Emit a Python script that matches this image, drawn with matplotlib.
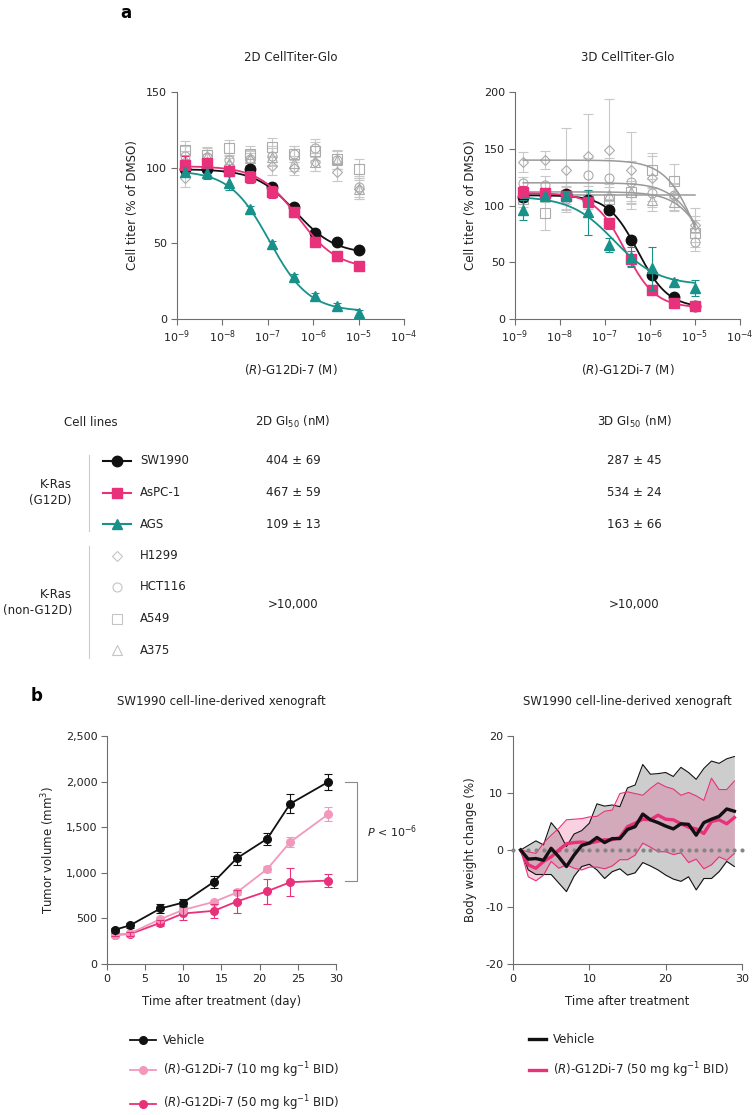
"""SW1990 / G12Di-7 figure: dose response (a) and xenograft (b)."""

import numpy as np
import matplotlib
matplotlib.use('Agg')
import matplotlib.pyplot as plt
from matplotlib.ticker import NullLocator, FuncFormatter

plt.rcParams['font.family'] = ['DejaVu Sans']
plt.rcParams['axes.unicode_minus'] = False
plt.rcParams['mathtext.fontset'] = 'dejavusans'

BLACK = '#111111'
PINK = '#e8317a'
LIGHT_PINK = '#f398bd'
TEAL = '#17918a'
GRAY = '#ababab'
AX_GRAY = '#6e6e6e'
TXT = '#222222'

# ---------------- panel a data ----------------
dose = [1.52e-9, 4.57e-9, 1.37e-8, 4.12e-8, 1.23e-7, 3.70e-7, 1.11e-6, 3.33e-6, 1.0e-5]

g12d_lines = ['SW1990', 'AsPC-1', 'AGS']
g12d_colors = [BLACK, PINK, TEAL]
g12d_markers = ['o', 's', '^']
other_lines = ['H1299', 'HCT116', 'A549', 'A375']
other_markers = ['D', 'o', 's', '^']

sw1990_2d = [98.8, 99.1, 97.7, 99.1, 87.4, 73.8, 56.7, 50.7, 45.9]
aspc1_2d = [102.0, 102.8, 97.7, 93.6, 83.7, 70.7, 51.2, 41.3, 35.1]
ags_2d = [97.3, 96.2, 90.0, 72.7, 49.4, 27.9, 15.4, 8.8, 4.0]
sw1990_2d_err = [2, 2, 2, 2, 2, 2, 2, 2, 2]
aspc1_2d_err = [6, 3, 3, 4, 4, 3, 3, 3, 2]
ags_2d_err = [3, 4, 5, 2, 2, 2, 2, 2, 2]

h1299_2d = [93.5, 104.0, 101.7, 105.0, 101.0, 100.0, 104.0, 97.0, 86.0]
hct116_2d = [108.0, 107.0, 105.0, 106.0, 108.0, 109.0, 113.0, 105.0, 87.4]
a549_2d = [111.6, 108.7, 113.3, 109.0, 113.8, 109.0, 111.0, 105.4, 99.0]
a375_2d = [105.0, 108.0, 103.0, 106.7, 107.0, 103.0, 104.0, 105.0, 86.0]
other_2d_err = [6, 5, 5, 5, 6, 5, 6, 6, 7]

sw1990_3d = [107.2, 109.2, 110.0, 104.8, 96.3, 69.7, 38.9, 19.3, 11.7]
aspc1_3d = [112.0, 110.7, 108.6, 103.4, 84.3, 53.0, 25.8, 14.0, 11.7]
ags_3d = [96.0, 108.0, 108.6, 94.0, 65.3, 55.0, 44.8, 32.2, 27.2]
sw1990_3d_err = [3, 3, 3, 3, 3, 3, 3, 3, 3]
aspc1_3d_err = [5, 4, 4, 4, 5, 7, 4, 3, 3]
ags_3d_err = [9, 3, 3, 20, 6, 8, 19, 3, 7]

h1299_3d = [138.5, 140.0, 131.0, 144.0, 149.0, 131.0, 124.0, 108.0, 83.0]
hct116_3d = [119.5, 118.0, 106.0, 127.0, 124.0, 120.4, 111.0, 109.0, 68.0]
a549_3d = [106.0, 93.0, 109.0, 105.0, 106.0, 112.0, 131.0, 122.0, 75.5]
a375_3d = [107.7, 109.0, 109.0, 109.0, 109.0, 112.0, 105.0, 103.0, 81.0]
h1299_3d_err = [9, 8, 37, 37, 45, 34, 20, 12, 15]
hct116_3d_err = [6, 8, 10, 15, 18, 19, 12, 10, 8]
a549_3d_err = [7, 15, 12, 8, 10, 10, 15, 15, 12]
a375_3d_err = [5, 6, 8, 8, 10, 8, 10, 8, 10]

# four-parameter fits (top, bottom, GI50 [M], Hill)
fit_top_2d = [99, 101, 98]
fit_bottom_2d = [43, 33, 5]
fit_gi50_2d = [4.04e-7, 4.67e-7, 1.09e-7]
fit_hill_2d = [1.0, 1.0, 1.0]

fit_top_3d = [109, 111, 108]
fit_bottom_3d = [10, 10, 30]
fit_gi50_3d = [5.4e-7, 2.8e-7, 1.6e-7]
fit_hill_3d = [1.3, 1.3, 0.9]

fit_top_3d_other = [140, 120, 109, 112]
fit_bottom_3d_other = [0, 0, 109, 0]
fit_gi50_3d_other = [1.3e-5, 2.0e-5, 1.0e-5, 2.5e-5]
fit_hill_3d_other = [1.2, 1.2, 1.0, 1.2]

gi50_2d_text = ['404 ± 69', '467 ± 59', '109 ± 13']
gi50_3d_text = ['287 ± 45', '534 ± 24', '163 ± 66']
other_gi50_text = '>10,000'

# ---------------- panel b data ----------------
tv_days = [1, 3, 7, 10, 14, 17, 21, 24, 29]
vehicle_tv = [375, 423, 609, 674, 900, 1159, 1374, 1757, 1997]
vehicle_tv_err = [25, 30, 45, 40, 70, 70, 65, 105, 85]
g12di_10_tv = [320, 335, 492, 594, 681, 784, 1042, 1337, 1643]
g12di_10_tv_err = [15, 20, 25, 25, 25, 30, 30, 55, 80]
g12di_50_tv = [320, 328, 452, 554, 583, 685, 798, 897, 915]
g12di_50_tv_err = [15, 20, 30, 70, 80, 125, 135, 155, 70]

bw_days = list(range(1, 30))
vehicle_bw = [0, -1.6, -1.5, -1.8, 0.3, -1.2, -2.9, -0.9, 0.8, 1.2, 2.2, 1.3, 2.0, 2.0,
              3.6, 4.1, 6.3, 5.3, 4.8, 4.2, 3.7, 4.6, 4.5, 2.6, 4.8, 5.4, 5.9, 7.2, 6.8]
vehicle_bw_hi = [0, 0.8, 1.6, 0.9, 4.8, 3.2, 0.6, 2.8, 3.4, 4.7, 8.1, 7.7, 7.9, 7.6,
                 10.9, 11.4, 15.0, 13.3, 13.4, 13.6, 12.9, 14.5, 13.6, 12.4, 14.3, 15.6,
                 15.2, 16.0, 16.4]
vehicle_bw_lo = [0, -3.5, -4.3, -4.3, -4.3, -5.8, -7.3, -4.6, -2.9, -2.5, -3.5, -5.0,
                 -3.8, -3.3, -4.4, -4.0, -2.2, -2.8, -3.5, -4.4, -5.1, -5.5, -4.7, -7.0,
                 -5.0, -5.0, -3.8, -2.0, -2.9]
g12di_bw = [0, -2.6, -3.2, -2.0, -1.2, 0.0, 1.1, 1.3, 1.4, 1.2, 1.5, 1.8, 1.8, 2.2,
            4.1, 4.7, 5.4, 5.3, 6.1, 5.4, 5.3, 4.6, 4.0, 3.7, 2.9, 5.0, 5.3, 4.6, 5.7]
g12di_bw_hi = [0, -0.3, -0.6, 1.2, 2.6, 3.8, 5.3, 5.4, 5.5, 5.8, 5.9, 6.8, 7.0, 9.9,
               10.2, 9.9, 9.6, 10.8, 11.8, 11.1, 10.7, 9.6, 10.1, 9.5, 8.7, 12.6, 10.6,
               10.6, 12.1]
g12di_bw_lo = [0, -4.7, -5.4, -4.4, -2.0, -3.2, -2.6, -3.2, -3.5, -3.0, -3.0, -3.3,
               -2.8, -1.7, -1.7, -0.9, 1.2, 0.5, -0.3, -0.3, -0.8, -0.5, -2.2, -1.6,
               -3.3, -2.6, -1.2, -1.8, -0.6]
zero_days = list(range(0, 31))


def four_pl(x, top, bottom, gi50, hill):
    return bottom + (top - bottom) / (1 + (x / gi50) ** hill)


def style(ax):
    for s in ['top', 'right']:
        ax.spines[s].set_visible(False)
    for s in ['left', 'bottom']:
        ax.spines[s].set_color(AX_GRAY)
        ax.spines[s].set_linewidth(0.8)
    ax.tick_params(direction='out', length=4, width=0.8, color=AX_GRAY,
                   labelsize=8, labelcolor=TXT, pad=3)


W, H = 754, 1115
fig = plt.figure(figsize=(W / 100, H / 100), dpi=100)


def px_axes(x0, y0, x1, y1):
    return fig.add_axes([x0 / W, 1 - y1 / H, (x1 - x0) / W, (y1 - y0) / H])


ax2d = px_axes(177, 92, 404, 319)
ax3d = px_axes(515, 92, 740, 319)
axtv = px_axes(107, 736, 336, 964)
axbw = px_axes(513, 736, 742, 964)

xfit = np.logspace(np.log10(dose[0]), np.log10(dose[-1]), 200)

# ---- 2D dose response ----
for vals, mk in zip([h1299_2d, hct116_2d, a549_2d, a375_2d], other_markers):
    ax2d.errorbar(dose, vals, yerr=other_2d_err, fmt=mk, ms=6.5 if mk != 'D' else 5.5,
                  mfc='none', mec=GRAY, mew=0.8, ecolor='#c8c8c8', elinewidth=0.8,
                  capsize=3.5, capthick=0.8, zorder=1)
g12d_2d = [sw1990_2d, aspc1_2d, ags_2d]
g12d_2d_err = [sw1990_2d_err, aspc1_2d_err, ags_2d_err]
for i in [2, 1, 0]:
    c = g12d_colors[i]
    ax2d.plot(xfit, four_pl(xfit, fit_top_2d[i], fit_bottom_2d[i], fit_gi50_2d[i],
                            fit_hill_2d[i]), color=c, lw=1.3, zorder=3 + i)
    ax2d.errorbar(dose, g12d_2d[i], yerr=g12d_2d_err[i], fmt=g12d_markers[i], ms=7.5,
                  color=c, ecolor=c, elinewidth=0.8, capsize=3, capthick=0.8,
                  zorder=3 + i)

# ---- 3D dose response ----
other_3d = [h1299_3d, hct116_3d, a549_3d, a375_3d]
other_3d_err = [h1299_3d_err, hct116_3d_err, a549_3d_err, a375_3d_err]
for j, mk in enumerate(other_markers):
    ax3d.errorbar(dose, other_3d[j], yerr=other_3d_err[j], fmt=mk,
                  ms=6.5 if mk != 'D' else 5.5, mfc='none', mec=GRAY, mew=0.8,
                  ecolor='#c8c8c8', elinewidth=0.8, capsize=3.5, capthick=0.8, zorder=1)
    ax3d.plot(xfit, four_pl(xfit, fit_top_3d_other[j], fit_bottom_3d_other[j],
                            fit_gi50_3d_other[j], fit_hill_3d_other[j]),
              color='#9a9a9a', lw=1.1, zorder=2)
g12d_3d = [sw1990_3d, aspc1_3d, ags_3d]
g12d_3d_err = [sw1990_3d_err, aspc1_3d_err, ags_3d_err]
for i in [2, 1, 0]:
    c = g12d_colors[i]
    ax3d.plot(xfit, four_pl(xfit, fit_top_3d[i], fit_bottom_3d[i], fit_gi50_3d[i],
                            fit_hill_3d[i]), color=c, lw=1.3, zorder=3 + i)
    ax3d.errorbar(dose, g12d_3d[i], yerr=g12d_3d_err[i], fmt=g12d_markers[i], ms=7.5,
                  color=c, ecolor=c, elinewidth=0.8, capsize=3, capthick=0.8,
                  zorder=3 + i)

for ax, top, title in [(ax2d, 150, '2D CellTiter-Glo'), (ax3d, 200, '3D CellTiter-Glo')]:
    style(ax)
    ax.set_xscale('log')
    ax.set_xlim(1e-9, 1e-4)
    ax.set_xticks([1e-9, 1e-8, 1e-7, 1e-6, 1e-5, 1e-4])
    ax.xaxis.set_minor_locator(NullLocator())
    ax.set_ylim(0, top)
    ax.set_yticks(np.arange(0, top + 1, 50))
    ax.set_ylabel('Cell titer (% of DMSO)', fontsize=8.5, color=TXT, labelpad=5)
    ax.set_xlabel(r'($\mathit{R}$)-G12Di-7 (M)', fontsize=8.5, color=TXT, labelpad=12)
    ax.set_title(title, fontsize=8.5, color=TXT, pad=22)

# ---- tumor volume ----
tv_series = [(vehicle_tv, vehicle_tv_err, BLACK, 'Vehicle'),
             (g12di_10_tv, g12di_10_tv_err, LIGHT_PINK,
              r'($\mathit{R}$)-G12Di-7 (10 mg kg$^{-1}$ BID)'),
             (g12di_50_tv, g12di_50_tv_err, PINK,
              r'($\mathit{R}$)-G12Di-7 (50 mg kg$^{-1}$ BID)')]
tv_handles = []
for k, (vals, err, c, lab) in enumerate(tv_series):
    axtv.errorbar(tv_days, vals, yerr=err, fmt='none', ecolor=c, elinewidth=0.8,
                  capsize=3, capthick=0.8, zorder=2 + k)
    h, = axtv.plot(tv_days, vals, '-o', color=c, lw=1.3, ms=5.5, zorder=5 - k,
                   label=lab)
    tv_handles.append(h)
style(axtv)
axtv.set_xlim(0, 30)
axtv.set_xticks(range(0, 31, 5))
axtv.set_ylim(0, 2500)
axtv.set_yticks(range(0, 2501, 500))
axtv.yaxis.set_major_formatter(FuncFormatter(lambda v, p: f'{int(v):,}'))
axtv.set_ylabel(r'Tumor volume (mm$^3$)', fontsize=8.5, color=TXT, labelpad=6)
axtv.set_xlabel('Time after treatment (day)', fontsize=8.5, color=TXT, labelpad=8)
axtv.set_title('SW1990 cell-line-derived xenograft', fontsize=8.5, color=TXT, pad=22)

# significance bracket between last vehicle and 50 mg/kg points
y_hi, y_lo = vehicle_tv[-1], g12di_50_tv[-1]
axtv.plot([31.2, 32.8, 32.8, 31.2], [y_hi, y_hi, y_lo, y_lo], color='#8a8a8a',
          lw=0.8, clip_on=False)
axtv.text(34.0, (y_hi + y_lo) / 2, r'$P$ < 10$^{-6}$', fontsize=8, color=TXT,
          ha='left', va='center', clip_on=False)

axtv.legend(handles=tv_handles, loc='upper left', bbox_to_anchor=(130 / W, 1 - 1034 / H),
            bbox_transform=fig.transFigure, frameon=False, fontsize=8.5,
            handlelength=2.2, handletextpad=0.6, labelspacing=1.15, borderpad=0,
            borderaxespad=0, labelcolor=TXT)

# ---- body weight ----
axbw.fill_between(bw_days, vehicle_bw_lo, vehicle_bw_hi, color='#cdcdcd', lw=0, zorder=1)
axbw.fill_between(bw_days, g12di_bw_lo, g12di_bw_hi, color=PINK, alpha=0.22, lw=0, zorder=2)
axbw.plot(bw_days, vehicle_bw_hi, color=BLACK, lw=0.8, zorder=3)
axbw.plot(bw_days, vehicle_bw_lo, color=BLACK, lw=0.8, zorder=3)
axbw.plot(bw_days, g12di_bw_hi, color=PINK, lw=0.8, zorder=3)
axbw.plot(bw_days, g12di_bw_lo, color=PINK, lw=0.8, zorder=3)
axbw.plot(zero_days, [0] * len(zero_days), 'o', color='#858585', ms=3.0, mew=0,
          zorder=4, clip_on=False)
hp, = axbw.plot(bw_days, g12di_bw, color=PINK, lw=2.4, zorder=5,
                label=r'($\mathit{R}$)-G12Di-7 (50 mg kg$^{-1}$ BID)')
hv, = axbw.plot(bw_days, vehicle_bw, color=BLACK, lw=2.4, zorder=6, label='Vehicle')
style(axbw)
axbw.set_xlim(0, 30)
axbw.set_xticks([0, 10, 20, 30])
axbw.set_ylim(-20, 20)
axbw.set_yticks([-20, -10, 0, 10, 20])
axbw.set_ylabel('Body weight change (%)', fontsize=8.5, color=TXT, labelpad=6)
axbw.set_xlabel('Time after treatment', fontsize=8.5, color=TXT, labelpad=8)
axbw.set_title('SW1990 cell-line-derived xenograft', fontsize=8.5, color=TXT, pad=22)
axbw.legend(handles=[hv, hp], loc='upper left', bbox_to_anchor=(529 / W, 1 - 1033 / H),
            bbox_transform=fig.transFigure, frameon=False, fontsize=8.5,
            handlelength=1.4, handletextpad=0.6, labelspacing=1.2, borderpad=0,
            borderaxespad=0, labelcolor=TXT)

# ---- GI50 table (pixel layout on an overlay axes) ----
ov = fig.add_axes([0, 0, 1, 1], zorder=-1)
ov.set_xlim(0, W)
ov.set_ylim(H, 0)
ov.axis('off')

header_y, row0_y, row_dy = 422, 461, 31.5
col_2d, col_3d = 293, 634
ov.text(91, header_y, 'Cell lines', fontsize=8.5, color=TXT, ha='center', va='center')
ov.text(col_2d, header_y, r'2D GI$_{50}$ (nM)', fontsize=8.5, color=TXT,
        ha='center', va='center')
ov.text(col_3d, header_y, r'3D GI$_{50}$ (nM)', fontsize=8.5, color=TXT,
        ha='center', va='center')

all_lines = g12d_lines + other_lines
for r, name in enumerate(all_lines):
    y = row0_y + r * row_dy
    if r < len(g12d_lines):
        c = g12d_colors[r]
        ov.plot([103, 131], [y, y], color=c, lw=1.5)
        ov.plot([117], [y], marker=g12d_markers[r], ms=7.5, color=c)
        ov.text(col_2d, y, gi50_2d_text[r], fontsize=8.5, color=TXT, ha='center', va='center')
        ov.text(col_3d, y, gi50_3d_text[r], fontsize=8.5, color=TXT, ha='center', va='center')
    else:
        mk = other_markers[r - len(g12d_lines)]
        ov.plot([117], [y], marker=mk, ms=6.5 if mk != 'D' else 5.5, mfc='none',
                mec='#c4c4c4', mew=0.8)
    ov.text(140, y, name, fontsize=8.5, color=TXT, ha='left', va='center')

g12d_mid = row0_y + (len(g12d_lines) - 1) / 2 * row_dy
other_mid = row0_y + (len(g12d_lines) + (len(other_lines) - 1) / 2) * row_dy
ov.plot([89, 89], [row0_y - 6, row0_y + 2 * row_dy + 7], color='#cccccc', lw=0.8)
ov.plot([89, 89], [row0_y + 3 * row_dy - 10, row0_y + 6 * row_dy + 8], color='#cccccc', lw=0.8)
ov.text(72, g12d_mid, 'K-Ras\n(G12D)', fontsize=8.5, color=TXT, ha='right',
        va='center', multialignment='right', linespacing=1.3)
ov.text(72, other_mid, 'K-Ras\n(non-G12D)', fontsize=8.5, color=TXT, ha='right',
        va='center', multialignment='right', linespacing=1.3)
ov.text(col_2d, other_mid + 2, other_gi50_text, fontsize=8.5, color=TXT, ha='center', va='center')
ov.text(col_3d, other_mid + 2, other_gi50_text, fontsize=8.5, color=TXT, ha='center', va='center')

fig.text(126 / W, 1 - 13 / H, 'a', fontsize=12, fontweight='bold', ha='center', va='center')
fig.text(37 / W, 1 - 696 / H, 'b', fontsize=12, fontweight='bold', ha='center', va='center')

fig.savefig('out.png', dpi=100)
